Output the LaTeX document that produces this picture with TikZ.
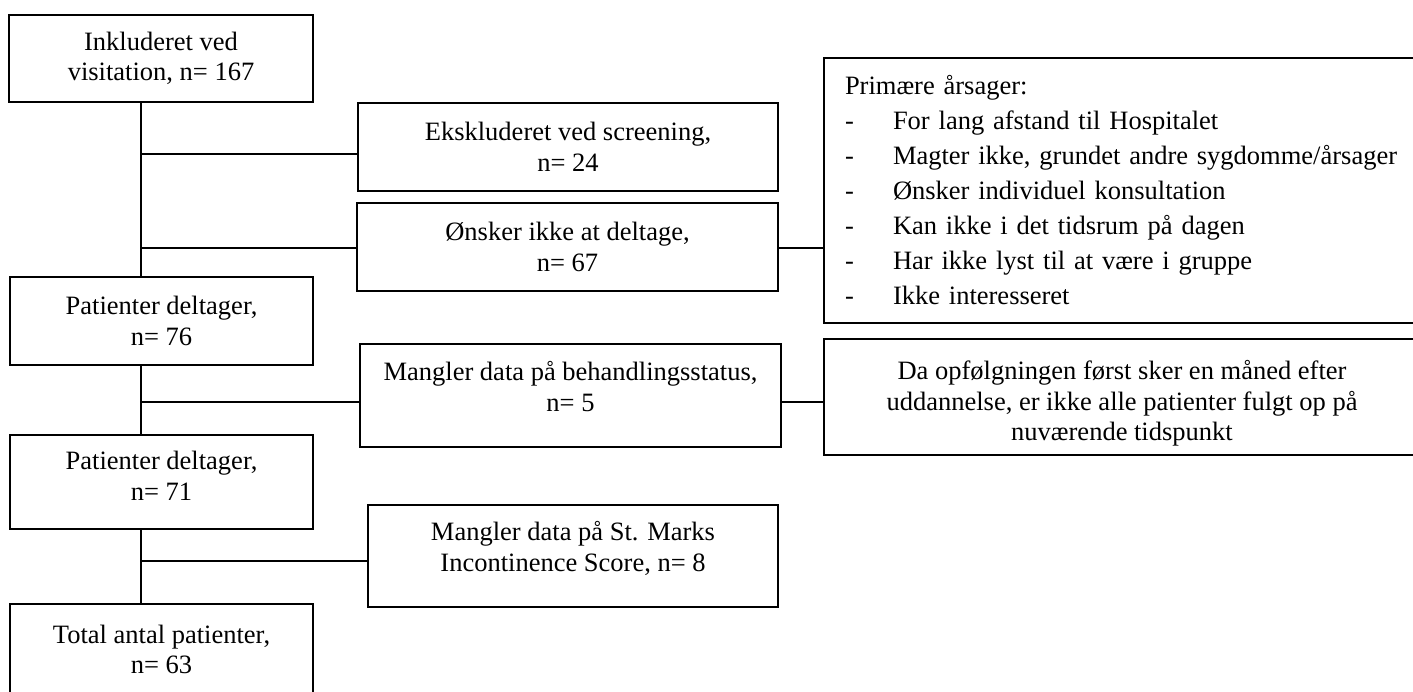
\documentclass[tikz,border=0pt]{standalone}
\usepackage{fontspec}
\setmainfont{Liberation Serif}
\usetikzlibrary{positioning}
\newcommand{\listdash}{\makebox[24pt][l]{-}}
% invisible struts to move text inside a box
\newcommand{\deepline}[1]{\rule[-#1]{0pt}{0pt}}
\newcommand{\tallline}[1]{\rule{0pt}{#1}}

\begin{document}
\begin{tikzpicture}[x=0.5pt, y=-0.5pt,
  box/.style={draw, line width=0.6pt, align=center, inner sep=0pt, font=\fontsize{13.25}{15.25}\selectfont},
  link/.style={line width=0.6pt}]
\useasboundingbox (0,0) rectangle (1413,691);
\clip (0,0) rectangle (1413,691);
% main column
\node[box, minimum width=152pt, minimum height=43.5pt] (incl) at (161,58.5) {Inkluderet ved\\visitation, n= 167};
\node[box, minimum width=151.5pt, minimum height=44pt] (delt1) at (161.5,321) {Patienter deltager,\\n= 76};
\node[box, minimum width=151.5pt, minimum height=47pt] (delt2) at (161.5,482) {Patienter deltager,\\n= 71\deepline{6pt}};
\node[box, minimum width=151.5pt, minimum height=45.5pt] (total) at (161.5,649.5) {Total antal patienter,\\n= 63};
% excluded
\node[box, minimum width=210pt, minimum height=44pt] (ekskl) at (568,147) {Ekskluderet ved screening,\\n= 24};
\node[box, minimum width=210.5pt, minimum height=44pt] (onsker) at (567.5,247) {Ønsker ikke at deltage,\\n= 67};
\node[box, minimum width=210.5pt, minimum height=51.5pt] (mangl1) at (570.5,395.5) {Mangler data på behandlingsstatus,\\n= 5\deepline{9pt}};
\node[box, minimum width=205pt, minimum height=51pt] (mangl2) at (573,556) {Mangler data på St. Marks\\Incontinence Score, n= 8\deepline{9.5pt}};
% reasons
\node[box, align=left, minimum width=298pt, minimum height=132.5pt, text width=277pt, inner xsep=10.5pt,
  font=\fontsize{13.25}{17.5}\selectfont] (primaere) at (1122,190.5) {Primære årsager:\\
\listdash For lang afstand til Hospitalet\\
\listdash Magter ikke, grundet andre sygdomme/årsager\\
\listdash Ønsker individuel konsultation\\
\listdash Kan ikke i det tidsrum på dagen\\
\listdash Har ikke lyst til at være i gruppe\\
\listdash Ikke interesseret};
\node[box, minimum width=298pt, minimum height=58pt] (da) at (1122,397) {\tallline{16pt}Da opfølgningen først sker en måned efter\\uddannelse, er ikke alle patienter fulgt op på\\nuværende tidspunkt};
% connectors
\coordinate (b1) at (141,154);
\coordinate (b2) at (141,248);
\coordinate (b3) at (141,402);
\coordinate (b4) at (141,561);
\draw[link] (incl.south -| b1) -- (delt1.north -| b1);
\draw[link] (delt1.south -| b3) -- (delt2.north -| b3);
\draw[link] (delt2.south -| b4) -- (total.north -| b4);
\draw[link] (b1) -- (b1 -| ekskl.west);
\draw[link] (b2) -- (b2 -| onsker.west);
\draw[link] (b2 -| onsker.east) -- (b2 -| primaere.west);
\draw[link] (b3) -- (b3 -| mangl1.west);
\draw[link] (b3 -| mangl1.east) -- (b3 -| da.west);
\draw[link] (b4) -- (b4 -| mangl2.west);
\end{tikzpicture}
\end{document}
